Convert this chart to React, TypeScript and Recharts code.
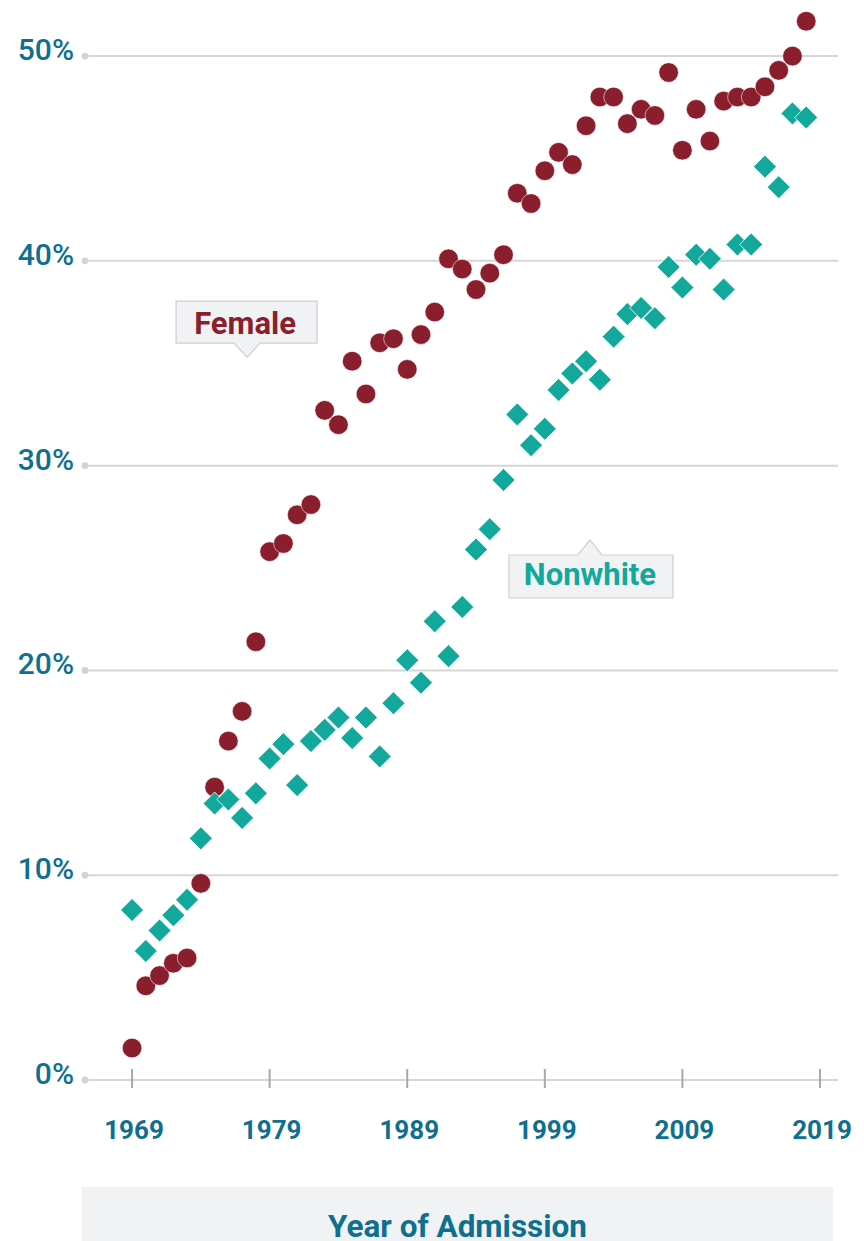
import React from 'react';
import { ScatterChart, Scatter, XAxis, YAxis, CartesianGrid, ReferenceDot } from 'recharts';

const years = [
  1969, 1970, 1971, 1972, 1973, 1974, 1975, 1976, 1977, 1978,
  1979, 1980, 1981, 1982, 1983, 1984, 1985, 1986, 1987, 1988,
  1989, 1990, 1991, 1992, 1993, 1994, 1995, 1996, 1997, 1998,
  1999, 2000, 2001, 2002, 2003, 2004, 2005, 2006, 2007, 2008,
  2009, 2010, 2011, 2012, 2013, 2014, 2015, 2016, 2017, 2018,
];

const female = [
  1.56, 4.6, 5.1, 5.7, 5.96, 9.6, 14.3, 16.55, 18.0, 21.4,
  25.8, 26.2, 27.6, 28.1, 32.7, 32.0, 35.1, 33.5, 36.0, 36.2,
  34.7, 36.4, 37.5, 40.1, 39.6, 38.6, 39.4, 40.3, 43.3, 42.8,
  44.4, 45.3, 44.7, 46.6, 48.0, 48.0, 46.7, 47.4, 47.1, 49.2,
  45.4, 47.4, 45.85, 47.8, 48.0, 48.0, 48.5, 49.3, 50.0, 51.7,
];

const nonwhite = [
  8.3, 6.3, 7.3, 8.05, 8.8, 11.8, 13.5, 13.7, 12.8, 14.0,
  15.7, 16.4, 14.4, 16.55, 17.1, 17.7, 16.7, 17.7, 15.8, 18.4,
  20.5, 19.4, 22.4, 20.7, 23.1, 25.9, 26.9, 29.3, 32.5, 31.0,
  31.8, 33.7, 34.5, 35.1, 34.2, 36.3, 37.4, 37.7, 37.2, 39.7,
  38.7, 40.3, 40.1, 38.6, 40.8, 40.8, 44.6, 43.6, 47.2, 47.0,
];

const xTicks = [1969, 1979, 1989, 1999, 2009, 2019];
const yTicks = [0, 10, 20, 30, 40, 50];

const femaleLabelAnchor = { year: 1977.36, value: 35.3 };
const nonwhiteLabelAnchor = { year: 2002.28, value: 26.37 };

const FEMALE_COLOR = '#8a1e2d';
const NONWHITE_COLOR = '#12a89c';
const AXIS_TEXT = '#0f6f8f';
const GRID = '#d6d6d6';
const FONT = 'Roboto, "Noto Sans", sans-serif';

const femaleData = years.map((y, i) => ({ year: y, value: female[i] }));
const nonwhiteData = years.map((y, i) => ({ year: y, value: nonwhite[i] }));

const CircleShape = (props: any) => {
  const { cx, cy } = props;
  if (cx == null || cy == null) return null;
  return <circle cx={cx} cy={cy} r={9.8} fill={FEMALE_COLOR} stroke="#ffffff" strokeOpacity={0.7} strokeWidth={0.8} />;
};

const DiamondShape = (props: any) => {
  const { cx, cy } = props;
  if (cx == null || cy == null) return null;
  const h = 11.5;
  const pts = `${cx},${cy - h} ${cx + h},${cy} ${cx},${cy + h} ${cx - h},${cy}`;
  return <polygon points={pts} fill={NONWHITE_COLOR} stroke="#ffffff" strokeOpacity={0.8} strokeWidth={1} />;
};

const FemaleCallout = (props: any) => {
  const { cx, cy } = props;
  if (cx == null || cy == null) return null;
  const left = cx - 71, right = cx + 70, top = cy - 56, bottom = cy - 14;
  const d = `M${left},${top} H${right} V${bottom} H${cx + 13} L${cx},${cy} L${cx - 13},${bottom} H${left} Z`;
  return (
    <g>
      <path d={d} fill="#f1f2f4" stroke="#cfcfd2" strokeWidth={1.2} />
      <text x={cx - 2} y={cy - 23} textAnchor="middle" fontFamily={FONT} fontWeight={700} fontSize={31} fill={FEMALE_COLOR}>
        Female
      </text>
    </g>
  );
};

const NonwhiteCallout = (props: any) => {
  const { cx, cy } = props;
  if (cx == null || cy == null) return null;
  const left = cx - 81, right = cx + 83, top = cy + 15, bottom = cy + 58;
  const d = `M${left},${top} H${cx - 12} L${cx},${cy} L${cx + 12},${top} H${right} V${bottom} H${left} Z`;
  return (
    <g>
      <path d={d} fill="#f1f2f4" stroke="#cfcfd2" strokeWidth={1.2} />
      <text x={cx} y={cy + 45} textAnchor="middle" fontFamily={FONT} fontWeight={700} fontSize={31} fill={NONWHITE_COLOR}>
        Nonwhite
      </text>
    </g>
  );
};

const XTick = (props: any) => {
  const { x, y, payload } = props;
  return (
    <g>
      <line x1={x} x2={x} y1={y - 11} y2={y + 8} stroke="#a9a9ad" strokeWidth={2} />
      <text x={x + 2} y={y + 59} textAnchor="middle" fontFamily={FONT} fontWeight={700} fontSize={26} fill={AXIS_TEXT}>
        {payload.value}
      </text>
    </g>
  );
};

const YTick = (props: any) => {
  const { x, y, payload } = props;
  return (
    <g>
      <circle cx={x} cy={y} r={3.4} fill="#d3d3d6" />
      <text x={x - 11} y={y + 4} textAnchor="end" fontFamily={FONT} fontWeight={500} fontSize={30} fill={AXIS_TEXT}>
        {payload.value}%
      </text>
    </g>
  );
};

export default function App() {
  return (
    <div style={{ position: 'absolute', left: 0, top: 0, width: 864, height: 1241, background: '#ffffff', overflow: 'hidden' }}>
      <ScatterChart width={864} height={1241} margin={{ top: 10, right: 26, left: 0, bottom: 131 }}>
        <CartesianGrid horizontal vertical={false} horizontalValues={yTicks} stroke={GRID} strokeWidth={2} />
        <XAxis
          type="number"
          dataKey="year"
          domain={[1965.58, 2020.31]}
          ticks={xTicks}
          height={30}
          axisLine={false}
          tickLine={false}
          tickSize={0}
          tickMargin={0}
          tick={<XTick />}
          interval={0}
          allowDataOverflow
        />
        <YAxis
          type="number"
          dataKey="value"
          domain={[0, 52.25]}
          ticks={yTicks}
          width={85}
          axisLine={false}
          tickLine={false}
          tickSize={0}
          tickMargin={0}
          tick={<YTick />}
          interval={0}
          allowDataOverflow
        />
        <Scatter data={femaleData} shape={<CircleShape />} isAnimationActive={false} />
        <Scatter data={nonwhiteData} shape={<DiamondShape />} isAnimationActive={false} />
        <ReferenceDot x={femaleLabelAnchor.year} y={femaleLabelAnchor.value} r={0} shape={<FemaleCallout />} />
        <ReferenceDot x={nonwhiteLabelAnchor.year} y={nonwhiteLabelAnchor.value} r={0} shape={<NonwhiteCallout />} />
      </ScatterChart>
      <svg style={{ position: 'absolute', left: 82, top: 1187 }} width={751} height={54}>
        <rect x={0} y={0} width={751} height={54} fill="#f1f2f4" />
        <text x={375.5} y={50} textAnchor="middle" fontFamily={FONT} fontWeight={700} fontSize={32} fill={AXIS_TEXT} textLength={259} lengthAdjust="spacingAndGlyphs">
          Year of Admission
        </text>
      </svg>
    </div>
  );
}
